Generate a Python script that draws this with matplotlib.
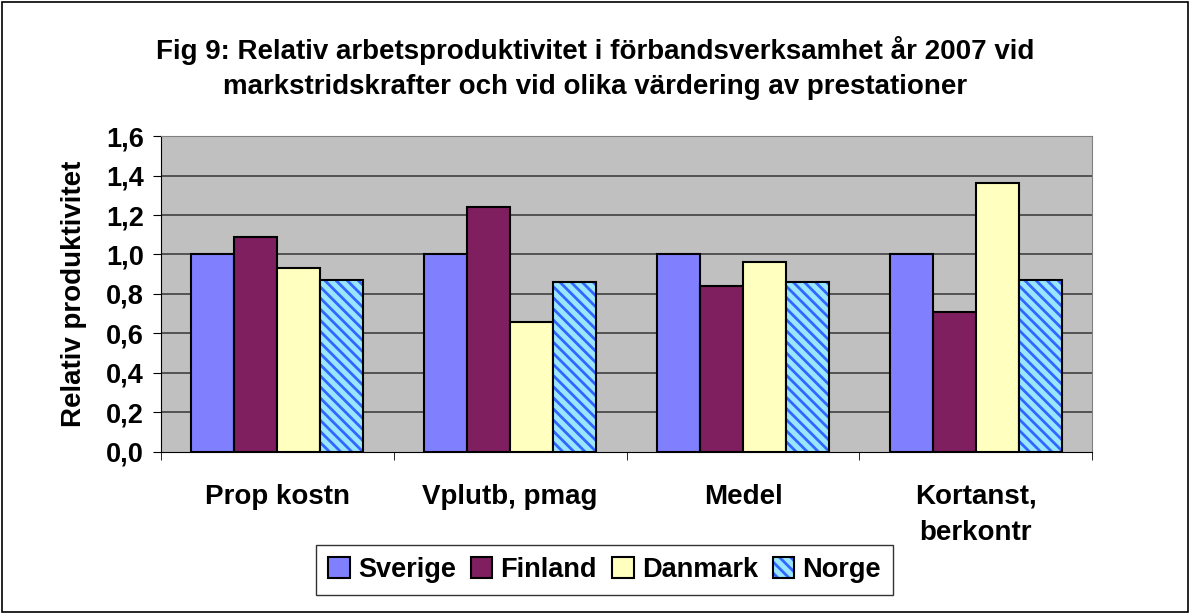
import matplotlib.pyplot as plt
import numpy as np
from matplotlib.patches import Patch, Rectangle

plt.rcParams['font.family'] = ['Liberation Sans', 'DejaVu Sans']
plt.rcParams['font.weight'] = 'bold'

# data
kategorier = ['Prop kostn', 'Vplutb, pmag', 'Medel', 'Kortanst,\nberkontr']
sverige = [1.00, 1.00, 1.00, 1.00]
finland = [1.09, 1.24, 0.84, 0.71]
danmark = [0.93, 0.66, 0.96, 1.36]
norge = [0.87, 0.86, 0.86, 0.87]
y_ticks = [0.0, 0.2, 0.4, 0.6, 0.8, 1.0, 1.2, 1.4, 1.6]

fig = plt.figure(figsize=(11.9, 6.13), dpi=100)
fig.patch.set_facecolor('white')
fig.add_artist(Rectangle((0.002, 0.002), 0.996, 0.994, transform=fig.transFigure,
                         fill=False, edgecolor='black', linewidth=1.2))

ax = fig.add_axes([0.135, 0.263, 0.783, 0.515])
ax.set_facecolor('#C0C0C0')

x = np.arange(len(kategorier))
w = 0.184
ax.bar(x - 1.5 * w, sverige, w, color='#8080FF', edgecolor='black', linewidth=1.5, zorder=3)
ax.bar(x - 0.5 * w, finland, w, color='#7F1F5F', edgecolor='black', linewidth=1.5, zorder=3)
ax.bar(x + 0.5 * w, danmark, w, color='#FFFFC0', edgecolor='black', linewidth=1.5, zorder=3)
plt.rcParams['hatch.linewidth'] = 2.0
ax.bar(x + 1.5 * w, norge, w, color='#99E6FF', edgecolor='#3366FF', hatch='\\\\\\', linewidth=0, zorder=3)
ax.bar(x + 1.5 * w, norge, w, fill=False, edgecolor='black', linewidth=1.5, zorder=4)

# rutnät
for t in y_ticks[1:]:
    ax.axhline(t, color='#404040', linewidth=1.2, zorder=1)

ax.set_xlim(-0.5, 3.5)
ax.set_ylim(0, 1.6)
ax.set_yticks(y_ticks)
ax.set_yticklabels([f'{t:.1f}'.replace('.', ',') for t in y_ticks], fontsize=19.5, fontweight='bold')
ax.set_xticks(x)
ax.set_xticklabels(kategorier, fontsize=20, fontweight='bold', linespacing=1.5)
ax.tick_params(axis='x', length=0, pad=23)
ax.set_xticks(np.arange(-0.5, 4, 1), minor=True)
ax.tick_params(axis='x', which='minor', length=6, color='black')
ax.tick_params(axis='y', length=6, pad=6)
for s in ['top', 'right']:
    ax.spines[s].set_color('#808080')
ax.spines['left'].set_color('black')
ax.spines['bottom'].set_color('black')

ax.set_ylabel('Relativ produktivitet', fontsize=20, fontweight='bold', labelpad=14)

fig.text(0.5, 0.918, 'Fig 9: Relativ arbetsproduktivitet i förbandsverksamhet år 2007 vid',
         ha='center', va='center', fontsize=20, fontweight='bold')
fig.text(0.5, 0.858, 'markstridskrafter och vid olika värdering av prestationer',
         ha='center', va='center', fontsize=20, fontweight='bold')

handles = [
    Patch(facecolor='#8080FF', edgecolor='black', linewidth=1.5),
    Patch(facecolor='#7F1F5F', edgecolor='black', linewidth=1.5),
    Patch(facecolor='#FFFFC0', edgecolor='black', linewidth=1.5),
    (Patch(facecolor='#99E6FF', edgecolor='#3366FF', hatch='\\\\\\', linewidth=0),
     Patch(fill=False, edgecolor='black', linewidth=1.5)),
]
leg = fig.legend(handles, ['Sverige', 'Finland', 'Danmark', 'Norge'], loc='center',
                 bbox_to_anchor=(0.508, 0.070), ncol=4, fontsize=19.5, frameon=True,
                 fancybox=False, edgecolor='black', handlelength=0.8, handleheight=0.8,
                 handletextpad=0.3, columnspacing=0.55, borderpad=0.45)
leg.get_frame().set_linewidth(1.0)

plt.savefig('out.png', dpi=100)
